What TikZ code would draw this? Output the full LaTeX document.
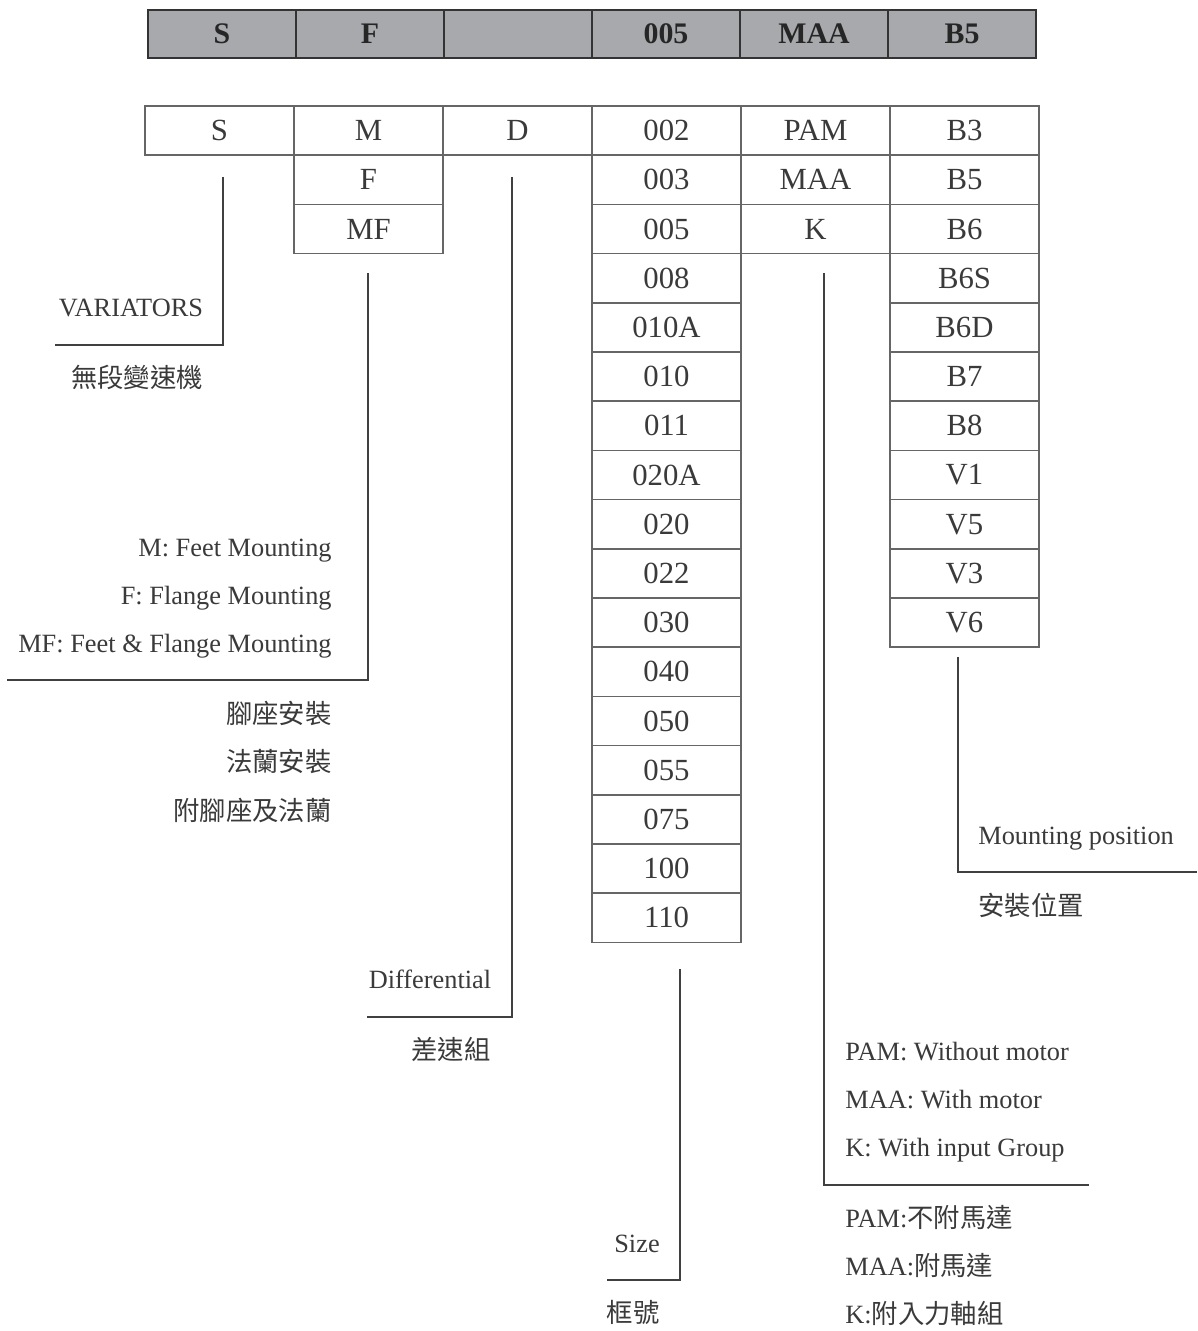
\documentclass[tikz,border=0pt]{standalone}
\usepackage{fontspec}
\setmainfont{Liberation Serif}
\newfontfamily\cjk{Noto Sans CJK TC}
\usepackage{xcolor}
\usetikzlibrary{positioning, calc}
\definecolor{headgray}{HTML}{A7A9AC}
\definecolor{inkgray}{HTML}{3A3A3A}

\begin{document}
\begin{tikzpicture}[
  x=0.02cm, y=-0.02cm,
  headcell/.style={draw=black!80, line width=1.1pt, fill=headgray, minimum width=2.96cm, minimum height=0.96cm, inner sep=0pt, font=\fontsize{17}{20}\selectfont\bfseries, text=black!85},
  cell/.style={draw=black!60, line width=0.9pt, minimum width=2.98cm, minimum height=0.984cm, inner sep=0pt, font=\fontsize{17.5}{20}\selectfont, text=inkgray},
  leader/.style={draw=black!75, line width=1.3pt},
  lab/.style={font=\fontsize{15}{18}\selectfont, text=inkgray, inner sep=0pt, yshift=-0.1cm},
]
  \useasboundingbox (0,0) rectangle (1197,1331);

  % ── Header row: chosen code ──
  \foreach \t [count=\i from 0] in {S,F,{},005,MAA,B5} {
    \node[headcell] (h\i) at ({222+148*\i},34) {\t};
  }

  % ── Option columns ──
  \node[cell] (s0) at (219.5,130.6) {S};
  \foreach \t [count=\i from 0] in {M,F,MF} {
    \node[cell] (m\i) at (368.5,{106+49.2*(\i+0.5)}) {\t};
  }
  \node[cell] (d0) at (517.5,130.6) {D};
  \foreach \t [count=\i from 0] in {002,003,005,008,010A,010,011,020A,020,022,030,040,050,055,075,100,110} {
    \node[cell] (sz\i) at (666.5,{106+49.2*(\i+0.5)}) {\t};
  }
  \foreach \t [count=\i from 0] in {PAM,MAA,K} {
    \node[cell] (pam\i) at (815.5,{106+49.2*(\i+0.5)}) {\t};
  }
  \foreach \t [count=\i from 0] in {B3,B5,B6,B6S,B6D,B7,B8,V1,V5,V3,V6} {
    \node[cell] (b\i) at (964.5,{106+49.2*(\i+0.5)}) {\t};
  }

  % ── Leader lines ──
  \coordinate (sEnd) at (55,345);
  \coordinate (mEnd) at (7,680);
  \coordinate (dEnd) at (367,1017);
  \coordinate (szEnd) at (607,1280);
  \coordinate (pamEnd) at (1089,1185);
  \coordinate (bEnd) at (1197,872);
  \draw[leader] (s0.south) ++(3.5,21) |- (sEnd);
  \draw[leader] (m2.south) ++(-0.5,19) |- (mEnd);
  \draw[leader] (d0.south) ++(-5.5,21) |- (dEnd);
  \draw[leader] (sz16.south) ++(13.5,26) |- (szEnd);
  \draw[leader] (pam2.south) ++(8.5,19) |- (pamEnd);
  \draw[leader] (b10.south) ++(-6.5,9) |- (bEnd);

  % ── Labels ──
  \node[lab, anchor=mid] (varEn) at (131,307) {VARIATORS};
  \node[lab, anchor=mid] (varZh) at (137,378) {\cjk 無段變速機};

  \foreach \t [count=\i from 0] in {M: Feet Mounting, F: Flange Mounting, MF: Feet \& Flange Mounting} {
    \node[lab, anchor=mid east] (mountEn\i) at (332,{547+48.2*\i}) {\t};
  }
  \foreach \t [count=\i from 0] in {腳座安裝,法蘭安裝,附腳座及法蘭} {
    \node[lab, anchor=mid east] (mountZh\i) at (332,{714+48.5*\i}) {\cjk\t};
  }

  \node[lab, anchor=mid] (diffEn) at (430,979) {Differential};
  \node[lab, anchor=mid] (diffZh) at (451,1050) {\cjk 差速組};

  \node[lab, anchor=mid] (sizeEn) at (637,1243) {Size};
  \node[lab, anchor=mid] (sizeZh) at (633,1313) {\cjk 框號};

  \foreach \t [count=\i from 0] in {PAM: Without motor, MAA: With motor, K: With input Group} {
    \node[lab, anchor=mid west] (motorEn\i) at (845,{1051+48*\i}) {\t};
  }
  \foreach \t [count=\i from 0] in {PAM:{\cjk 不附馬達},MAA:{\cjk 附馬達},K:{\cjk 附入力軸組}} {
    \node[lab, anchor=mid west] (motorZh\i) at (845,{1218+48*\i}) {\t};
  }

  \node[lab, anchor=mid west] (posEn) at (978,835) {Mounting position};
  \node[lab, anchor=mid west] (posZh) at (978,906) {\cjk 安裝位置};

\end{tikzpicture}
\end{document}
